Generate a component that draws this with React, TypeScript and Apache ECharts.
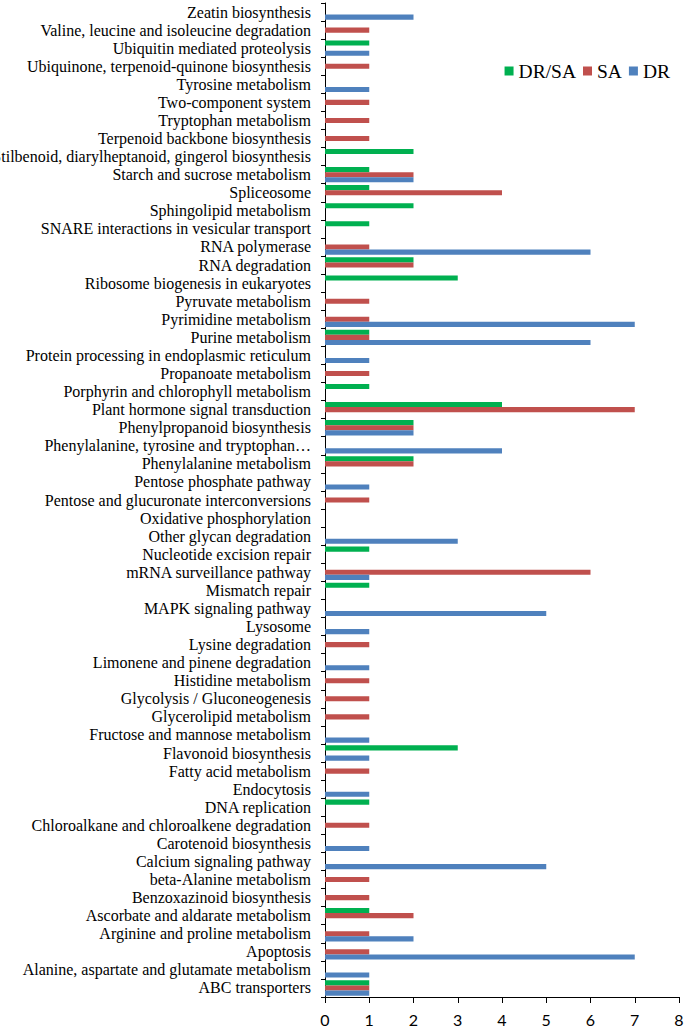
import React, { useEffect, useRef } from "react";
import * as echarts from "echarts";

const categories: string[] = [
  "Zeatin biosynthesis",
  "Valine, leucine and isoleucine degradation",
  "Ubiquitin mediated proteolysis",
  "Ubiquinone, terpenoid-quinone biosynthesis",
  "Tyrosine metabolism",
  "Two-component system",
  "Tryptophan metabolism",
  "Terpenoid backbone biosynthesis",
  "Stilbenoid, diarylheptanoid, gingerol biosynthesis",
  "Starch and sucrose metabolism",
  "Spliceosome",
  "Sphingolipid metabolism",
  "SNARE interactions in vesicular transport",
  "RNA polymerase",
  "RNA degradation",
  "Ribosome biogenesis in eukaryotes",
  "Pyruvate metabolism",
  "Pyrimidine metabolism",
  "Purine metabolism",
  "Protein processing in endoplasmic reticulum",
  "Propanoate metabolism",
  "Porphyrin and chlorophyll metabolism",
  "Plant hormone signal transduction",
  "Phenylpropanoid biosynthesis",
  "Phenylalanine, tyrosine and tryptophan…",
  "Phenylalanine metabolism",
  "Pentose phosphate pathway",
  "Pentose and glucuronate interconversions",
  "Oxidative phosphorylation",
  "Other glycan degradation",
  "Nucleotide excision repair",
  "mRNA surveillance pathway",
  "Mismatch repair",
  "MAPK signaling pathway",
  "Lysosome",
  "Lysine degradation",
  "Limonene and pinene degradation",
  "Histidine metabolism",
  "Glycolysis / Gluconeogenesis",
  "Glycerolipid metabolism",
  "Fructose and mannose metabolism",
  "Flavonoid biosynthesis",
  "Fatty acid metabolism",
  "Endocytosis",
  "DNA replication",
  "Chloroalkane and chloroalkene degradation",
  "Carotenoid biosynthesis",
  "Calcium signaling pathway",
  "beta-Alanine metabolism",
  "Benzoxazinoid biosynthesis",
  "Ascorbate and aldarate metabolism",
  "Arginine and proline metabolism",
  "Apoptosis",
  "Alanine, aspartate and glutamate metabolism",
  "ABC transporters",
];

// values listed top-to-bottom, matching categories
const drsaValues: number[] = [
  0, 0, 1, 0, 0, 0, 0, 0, 2, 1,
  1, 2, 1, 0, 2, 3, 0, 0, 1, 0,
  0, 1, 4, 2, 0, 2, 0, 0, 0, 0,
  1, 0, 1, 0, 0, 0, 0, 0, 0, 0,
  0, 3, 0, 0, 1, 0, 0, 0, 0, 0,
  1, 0, 0, 0, 1,
];
const saValues: number[] = [
  0, 1, 0, 1, 0, 1, 1, 1, 0, 2,
  4, 0, 0, 1, 2, 0, 1, 1, 1, 0,
  1, 0, 7, 2, 0, 2, 0, 1, 0, 0,
  0, 6, 0, 0, 0, 1, 0, 1, 1, 1,
  0, 0, 1, 0, 0, 1, 0, 0, 1, 1,
  2, 1, 1, 0, 1,
];
const drValues: number[] = [
  2, 0, 1, 0, 1, 0, 0, 0, 0, 2,
  0, 0, 0, 6, 0, 0, 0, 7, 6, 1,
  0, 0, 0, 2, 4, 0, 1, 0, 0, 3,
  0, 1, 0, 5, 1, 0, 1, 0, 0, 0,
  1, 1, 0, 1, 0, 0, 1, 5, 0, 0,
  0, 2, 7, 1, 1,
];

const seriesNames = ["DR/SA", "SA", "DR"];
const seriesColors = ["#00B050", "#C0504D", "#4F81BD"];
const xTicks = [0, 8, 1]; // min, max, interval

export default function App() {
  const ref = useRef<HTMLDivElement>(null);
  useEffect(() => {
    if (!ref.current) return;
    const chart = echarts.init(ref.current, undefined, { renderer: "svg" });
    const dataSets = [drsaValues, saValues, drValues];
    chart.setOption({
      animation: false,
      backgroundColor: "#ffffff",
      legend: {
        data: seriesNames,
        right: 10,
        top: 56,
        icon: "rect",
        itemWidth: 9,
        itemHeight: 9,
        itemGap: 7,
        textStyle: {
          fontFamily: "Liberation Serif",
          fontSize: 19.5,
          color: "#000",
        },
      },
      grid: {
        left: 325,
        right: 6,
        top: 3,
        bottom: 34,
        containLabel: false,
        outerBoundsMode: "none",
      },
      xAxis: {
        type: "value",
        min: xTicks[0],
        max: xTicks[1],
        interval: xTicks[2],
        axisLine: { show: true, lineStyle: { color: "#000", width: 1 } },
        axisTick: { show: true, length: 6, lineStyle: { color: "#000" } },
        splitLine: { show: false },
        axisLabel: {
          fontFamily: "Lato",
          fontSize: 16,
          color: "#000",
          margin: 14,
        },
      },
      yAxis: {
        type: "category",
        inverse: true,
        data: categories,
        axisLine: { show: true, lineStyle: { color: "#000", width: 1 } },
        axisTick: { show: true, length: 4, lineStyle: { color: "#000" } },
        axisLabel: {
          interval: 0,
          fontFamily: "Liberation Serif",
          fontSize: 16,
          color: "#000",
          margin: 14,
        },
      },
      series: seriesNames.map((name, i) => ({
        name,
        type: "bar",
        data: dataSets[i],
        barGap: "0%",
        barCategoryGap: "15%",
        itemStyle: { color: seriesColors[i] },
      })),
    });
    return () => chart.dispose();
  }, []);
  return (
    <div
      ref={ref}
      style={{ position: "fixed", left: 0, top: 0, width: 685, height: 1031 }}
    />
  );
}
